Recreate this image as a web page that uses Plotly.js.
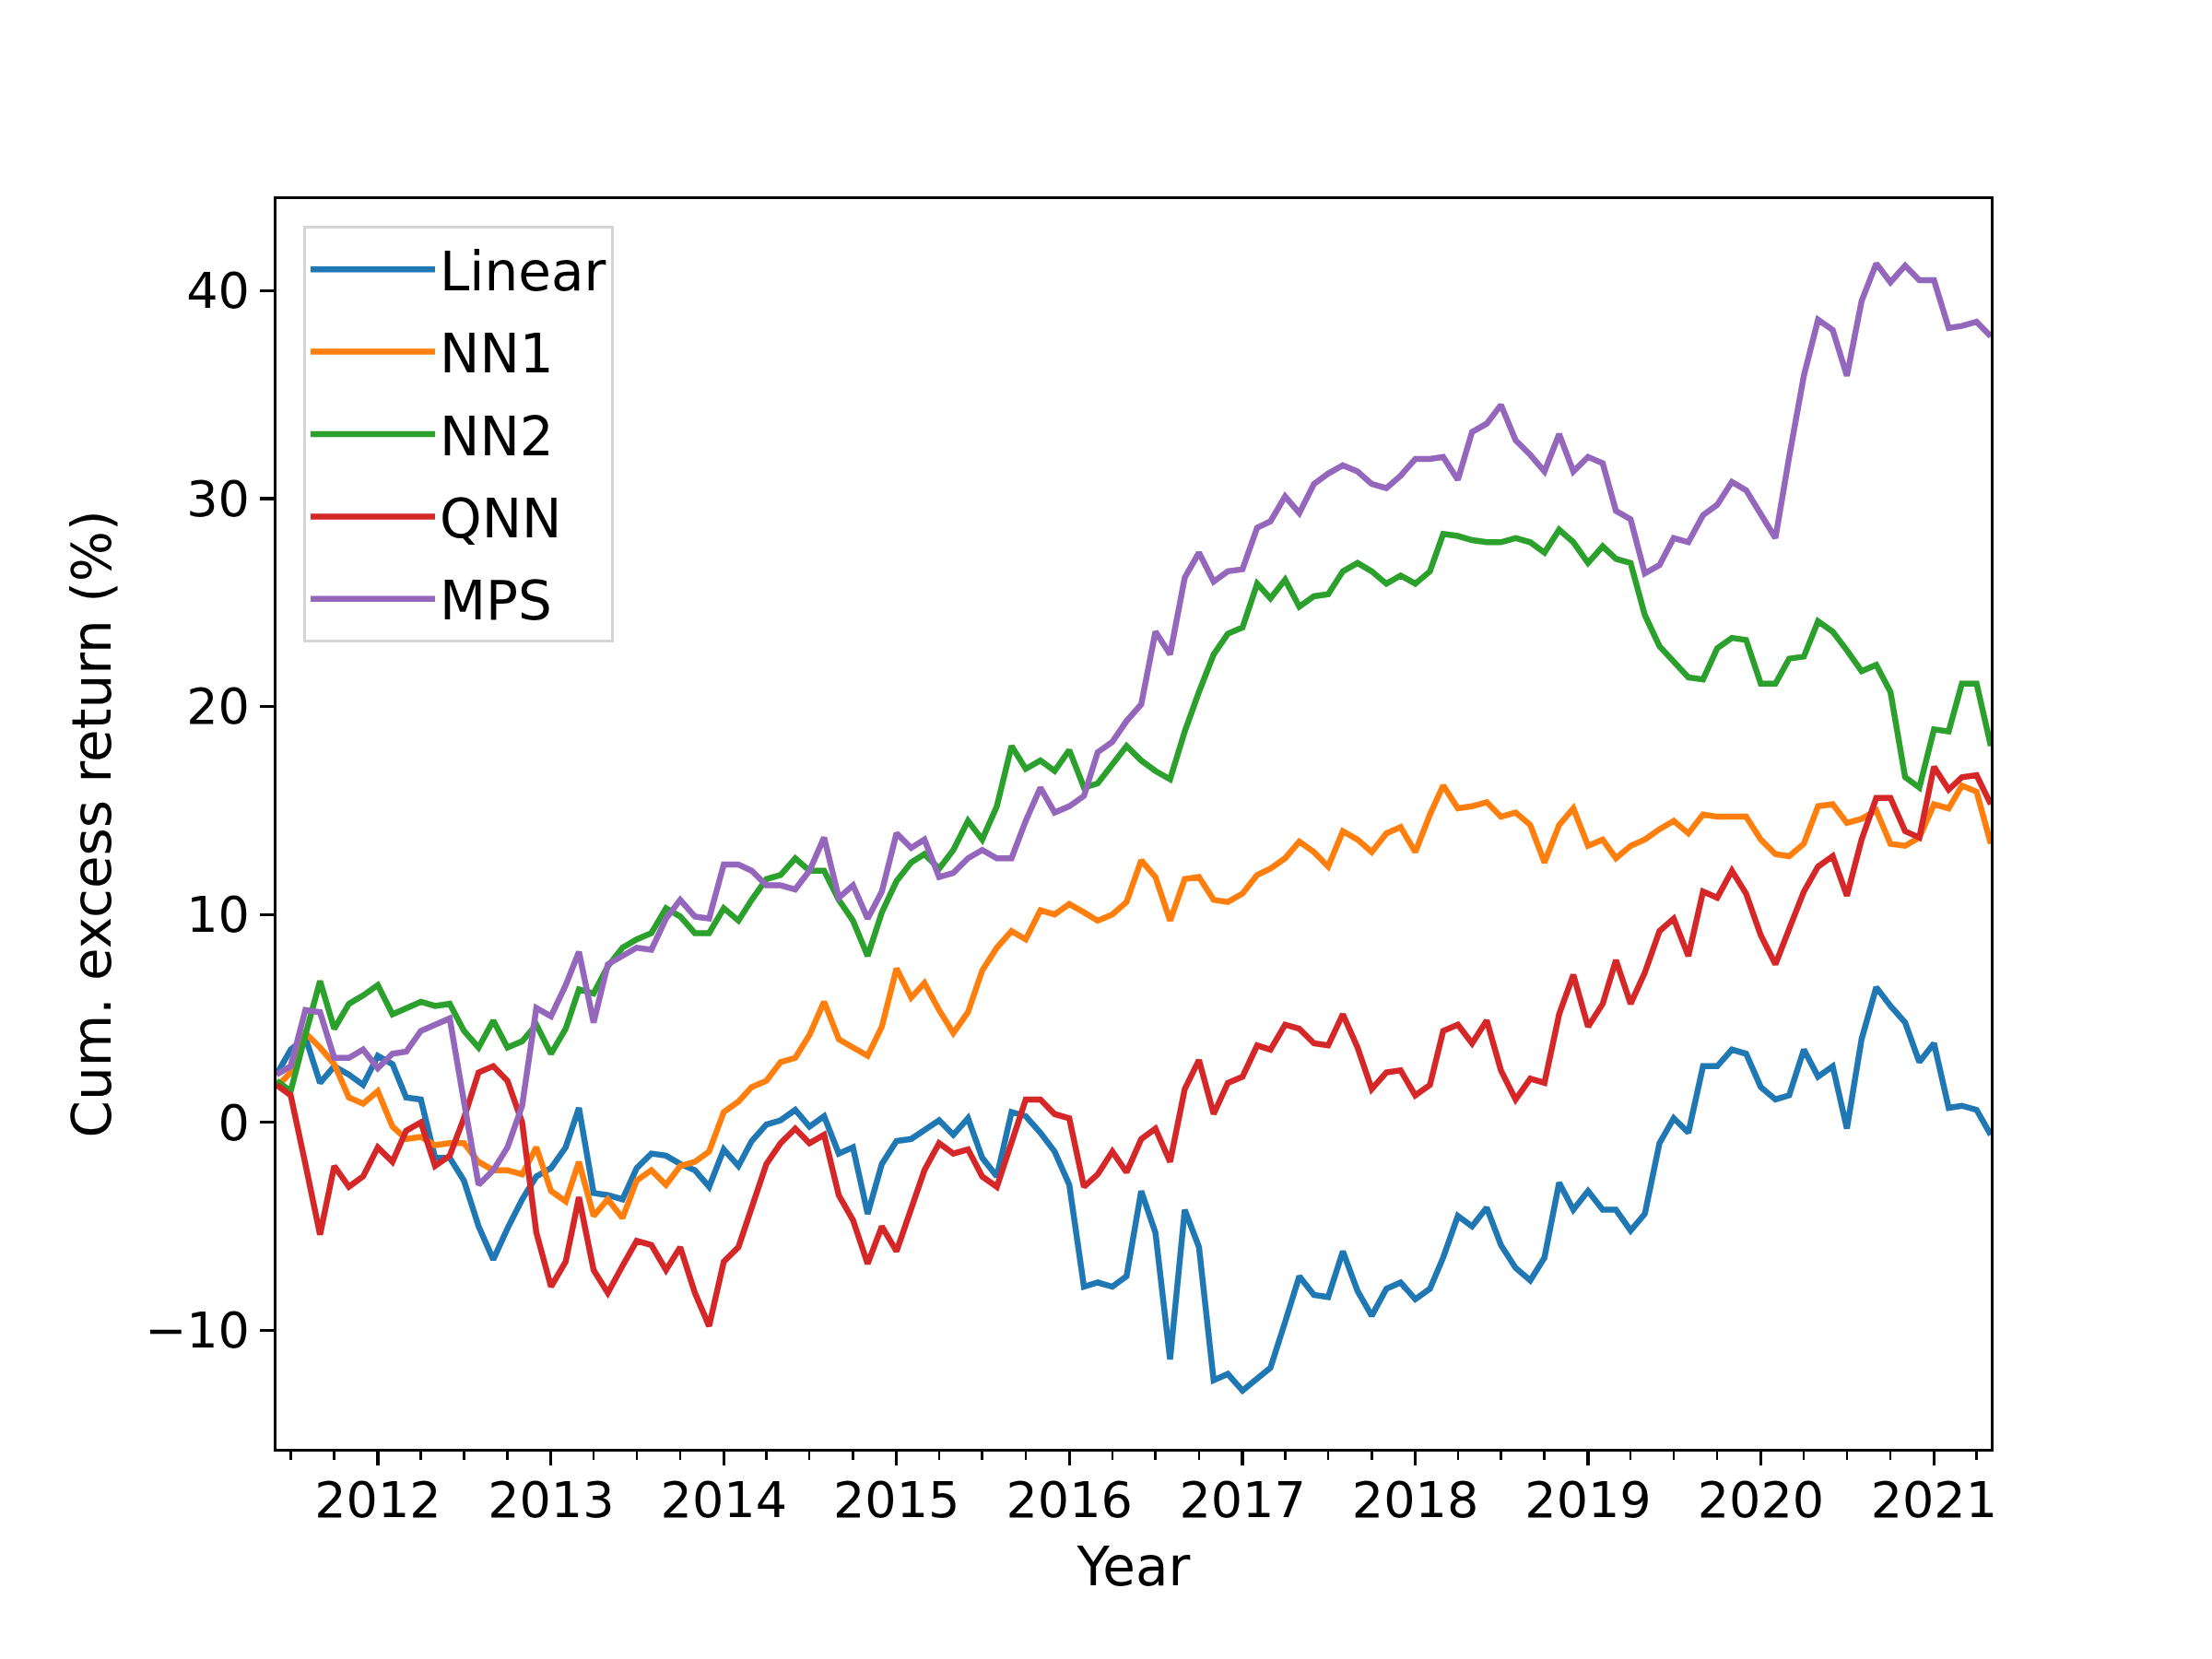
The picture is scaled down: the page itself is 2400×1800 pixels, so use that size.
<!DOCTYPE html>
<html>
<head>
<meta charset="utf-8">
<script src="https://cdn.plot.ly/plotly-3.0.1.min.js"></script>
<style>
  html, body { margin: 0; padding: 0; background: #ffffff; }
  #chart { width: 2400px; height: 1800px; }
</style>
</head>
<body>
<div id="chart"></div>
<script>
// monthly series, June 2011 .. May 2021 (120 months)
const startYear = 2011, startMonth = 6, nMonths = 120;

const linear = [
  2.3, 3.5, 4.1, 1.9, 2.7, 2.3, 1.8, 3.2, 2.8, 1.2, 1.1, -1.7, -1.7, -2.8, -5.0, -6.6, -5.1, -3.7, -2.6, -2.2,
  -1.2, 0.7, -3.4, -3.5, -3.7, -2.2, -1.5, -1.6,
  -2.0, -2.3, -3.1, -1.3, -2.1, -0.9, -0.1, 0.1, 0.6, -0.2, 0.3, -1.5, -1.2, -4.4, -2.0, -0.9, -0.8, -0.4, 0.1, -0.6,
  0.2, -1.7, -2.6, 0.5, 0.3, -0.5,
  -1.4, -3.0, -7.9, -7.7, -7.9, -7.4, -3.3, -5.3, -11.4, -4.2, -6.0, -12.4, -12.1, -12.9, -12.3, -11.8, -9.6, -7.4,
  -8.3, -8.4, -6.2, -8.1, -9.3, -8.0, -7.7, -8.5, -8.0, -6.5,
  -4.5, -5.0, -4.1, -5.9, -7.0, -7.6, -6.5, -2.9, -4.2, -3.3, -4.2, -4.2, -5.2, -4.4, -1.0, 0.2, -0.5, 2.7, 2.7, 3.5,
  3.3, 1.7, 1.1, 1.3, 3.5, 2.2, 2.7, -0.3, 4.0, 6.5, 5.6, 4.8, 2.9, 3.8, 0.7, 0.8, 0.6, -0.6
];
const nn1 = [
  1.7, 2.4, 4.3, 3.6, 2.8, 1.2, 0.9, 1.5, -0.2, -0.8, -0.7, -1.1, -1.0, -1.0, -1.9, -2.3, -2.3, -2.5, -1.2, -3.3,
  -3.8, -1.9, -4.5, -3.7, -4.6, -2.8, -2.3, -3.0,
  -2.1, -1.9, -1.4, 0.5, 1.0, 1.7, 2.0, 2.9, 3.1, 4.2, 5.8, 4.0, 3.6, 3.2, 4.6, 7.4, 6.0, 6.7, 5.4, 4.3,
  5.3, 7.3, 8.4, 9.2, 8.8, 10.2,
  10.0, 10.5, 10.1, 9.7, 10.0, 10.6, 12.6, 11.8, 9.7, 11.7, 11.8, 10.7, 10.6, 11.0, 11.9, 12.2, 12.7, 13.5,
  13.0, 12.3, 14.0, 13.6, 13.0, 13.9, 14.2, 13.0, 14.8, 16.2,
  15.1, 15.2, 15.4, 14.7, 14.9, 14.3, 12.5, 14.3, 15.1, 13.3, 13.6, 12.7, 13.3, 13.6, 14.1, 14.5, 13.9, 14.8, 14.7, 14.7,
  14.7, 13.6, 12.9, 12.8, 13.4, 15.2, 15.3, 14.4, 14.6, 15.0, 13.4, 13.3, 13.7, 15.3, 15.1, 16.2, 15.9, 13.4
];
const nn2 = [
  2.0, 1.5, 4.2, 6.8, 4.5, 5.7, 6.1, 6.6, 5.2, 5.5, 5.8, 5.6, 5.7, 4.4, 3.6, 4.9, 3.6, 3.9, 4.7, 3.3,
  4.5, 6.4, 6.2, 7.5, 8.4, 8.8, 9.1, 10.3,
  9.9, 9.1, 9.1, 10.3, 9.7, 10.7, 11.7, 11.9, 12.7, 12.1, 12.1, 10.7, 9.7, 8.0, 10.1, 11.6, 12.5, 12.9, 12.2, 13.1,
  14.5, 13.6, 15.2, 18.1, 17.0, 17.4,
  16.9, 17.9, 16.1, 16.3, 17.2, 18.1, 17.4, 16.9, 16.5, 18.8, 20.7, 22.5, 23.5, 23.8, 25.9, 25.2, 26.1, 24.8,
  25.3, 25.4, 26.5, 26.9, 26.5, 25.9, 26.3, 25.9, 26.5, 28.3,
  28.2, 28.0, 27.9, 27.9, 28.1, 27.9, 27.4, 28.5, 27.9, 26.9, 27.7, 27.1, 26.9, 24.4, 22.9, 22.2, 21.4, 21.3, 22.8, 23.3,
  23.2, 21.1, 21.1, 22.3, 22.4, 24.1, 23.6, 22.7, 21.7, 22.0, 20.7, 16.6, 16.1, 18.9, 18.8, 21.1, 21.1, 18.1
];
const qnn = [
  1.8, 1.3, -2.0, -5.4, -2.1, -3.1, -2.6, -1.2, -1.9, -0.4, 0.0, -2.1, -1.6, 0.2, 2.4, 2.7, 2.0, 0.0, -5.3, -7.9,
  -6.7, -3.6, -7.1, -8.2, -6.9, -5.7, -5.9, -7.1,
  -6.0, -8.2, -9.8, -6.7, -6.0, -4.1, -2.0, -1.0, -0.3, -1.0, -0.6, -3.5, -4.7, -6.8, -5.0, -6.2, -4.1, -2.3, -1.0, -1.5,
  -1.3, -2.6, -3.1, -1.0, 1.1, 1.1,
  0.4, 0.2, -3.1, -2.5, -1.4, -2.4, -0.8, -0.3, -1.9, 1.6, 3.0, 0.4, 1.9, 2.2, 3.7, 3.5, 4.7, 4.5,
  3.8, 3.7, 5.2, 3.6, 1.6, 2.4, 2.5, 1.3, 1.8, 4.4,
  4.7, 3.8, 4.9, 2.5, 1.1, 2.1, 1.9, 5.2, 7.1, 4.6, 5.7, 7.8, 5.7, 7.2, 9.2, 9.8, 8.0, 11.1, 10.8, 12.1,
  11.0, 9.0, 7.6, 9.3, 11.1, 12.3, 12.8, 10.9, 13.6, 15.6, 15.6, 14.0, 13.7, 17.1, 16.0, 16.6, 16.7, 15.3
];
const mps = [
  2.3, 2.7, 5.4, 5.3, 3.1, 3.1, 3.5, 2.6, 3.3, 3.4, 4.4, 4.7, 5.0, 1.0, -3.0, -2.3, -1.2, 0.8, 5.5, 5.1,
  6.6, 8.2, 4.8, 7.6, 8.0, 8.4, 8.3, 9.8,
  10.7, 9.9, 9.8, 12.4, 12.4, 12.1, 11.4, 11.4, 11.2, 12.1, 13.7, 10.8, 11.4, 9.8, 11.1, 13.9, 13.2, 13.6, 11.8, 12.0,
  12.7, 13.1, 12.7, 12.7, 14.5, 16.1,
  14.9, 15.2, 15.7, 17.8, 18.3, 19.3, 20.1, 23.6, 22.5, 26.2, 27.4, 26.0, 26.5, 26.6, 28.6, 28.9, 30.1, 29.3,
  30.7, 31.2, 31.6, 31.3, 30.7, 30.5, 31.1, 31.9, 31.9, 32.0,
  30.9, 33.2, 33.6, 34.5, 32.8, 32.1, 31.3, 33.1, 31.3, 32.0, 31.7, 29.4, 29.0, 26.4, 26.8, 28.1, 27.9, 29.2, 29.7, 30.8,
  30.4, 29.2, 28.1, 32.0, 35.9, 38.6, 38.1, 35.9, 39.5, 41.3, 40.4, 41.2, 40.5, 40.5, 38.2, 38.3, 38.5, 37.8
];

const seriesNames = ['Linear', 'NN1', 'NN2', 'QNN', 'MPS'];
const seriesColors = ['#1f77b4', '#ff7f0e', '#2ca02c', '#d62728', '#9467bd'];
const seriesData = [linear, nn1, nn2, qnn, mps];

// month-start dates for the x axis
const dates = [];
for (let k = 0; k < nMonths; k++) {
  const m0 = startMonth - 1 + k;
  const y = startYear + Math.floor(m0 / 12);
  const m = (m0 % 12) + 1;
  dates.push(y + '-' + String(m).padStart(2, '0') + '-01');
}

const traces = seriesData.map((vals, i) => ({
  x: dates, y: vals, name: seriesNames[i],
  type: 'scatter', mode: 'lines',
  legendgroup: 'g' + i,
  line: { color: seriesColors[i], width: 6.5 }
}));

const tickFont = { family: 'DejaVu Sans', size: 54, color: '#000000' };
const labelFont = { family: 'DejaVu Sans', size: 58, color: '#000000' };

const layout = {
  width: 2400, height: 1800,
  paper_bgcolor: '#ffffff', plot_bgcolor: '#ffffff',
  margin: { l: 300, r: 240, t: 216, b: 228, autoexpand: false },
  font: labelFont,
  showlegend: true,
  legend: {
    x: 0.0156, y: 0.9786, xanchor: 'left', yanchor: 'top',
    bgcolor: 'rgba(255,255,255,0.8)', bordercolor: '#d5d5d5', borderwidth: 3,
    font: labelFont, traceorder: 'grouped', tracegroupgap: 11,
    itemwidth: 135
  },
  xaxis: {
    type: 'date', range: ['2011-06-01', '2021-05-01'],
    tick0: '2012-01-01', dtick: 'M12', tickformat: '%Y',
    ticks: 'outside', ticklen: 15, tickwidth: 3.3, tickcolor: '#000000',
    ticklabelstandoff: -9,
    showline: true, linewidth: 3.3, linecolor: '#000000', mirror: true,
    showgrid: false, zeroline: false, automargin: false,
    tickfont: tickFont,
    minor: { ticks: 'outside', dtick: 'M3', tick0: '2012-01-01', ticklen: 8.5, tickwidth: 2.5, tickcolor: '#000000', showgrid: false },
    title: { text: 'Year', font: labelFont, standoff: 22 }
  },
  yaxis: {
    range: [-15.7, 44.4], tick0: 0, dtick: 10,
    ticks: 'outside', ticklen: 15, tickwidth: 3.3, tickcolor: '#000000',
    showline: true, linewidth: 3.3, linecolor: '#000000', mirror: true,
    showgrid: false, zeroline: false, automargin: false,
    tickfont: tickFont,
    title: { text: 'Cum. excess return (%)', font: labelFont, standoff: 18 }
  }
};

Plotly.newPlot('chart', traces, layout, { displayModeBar: false, staticPlot: true });
</script>
</body>
</html>
